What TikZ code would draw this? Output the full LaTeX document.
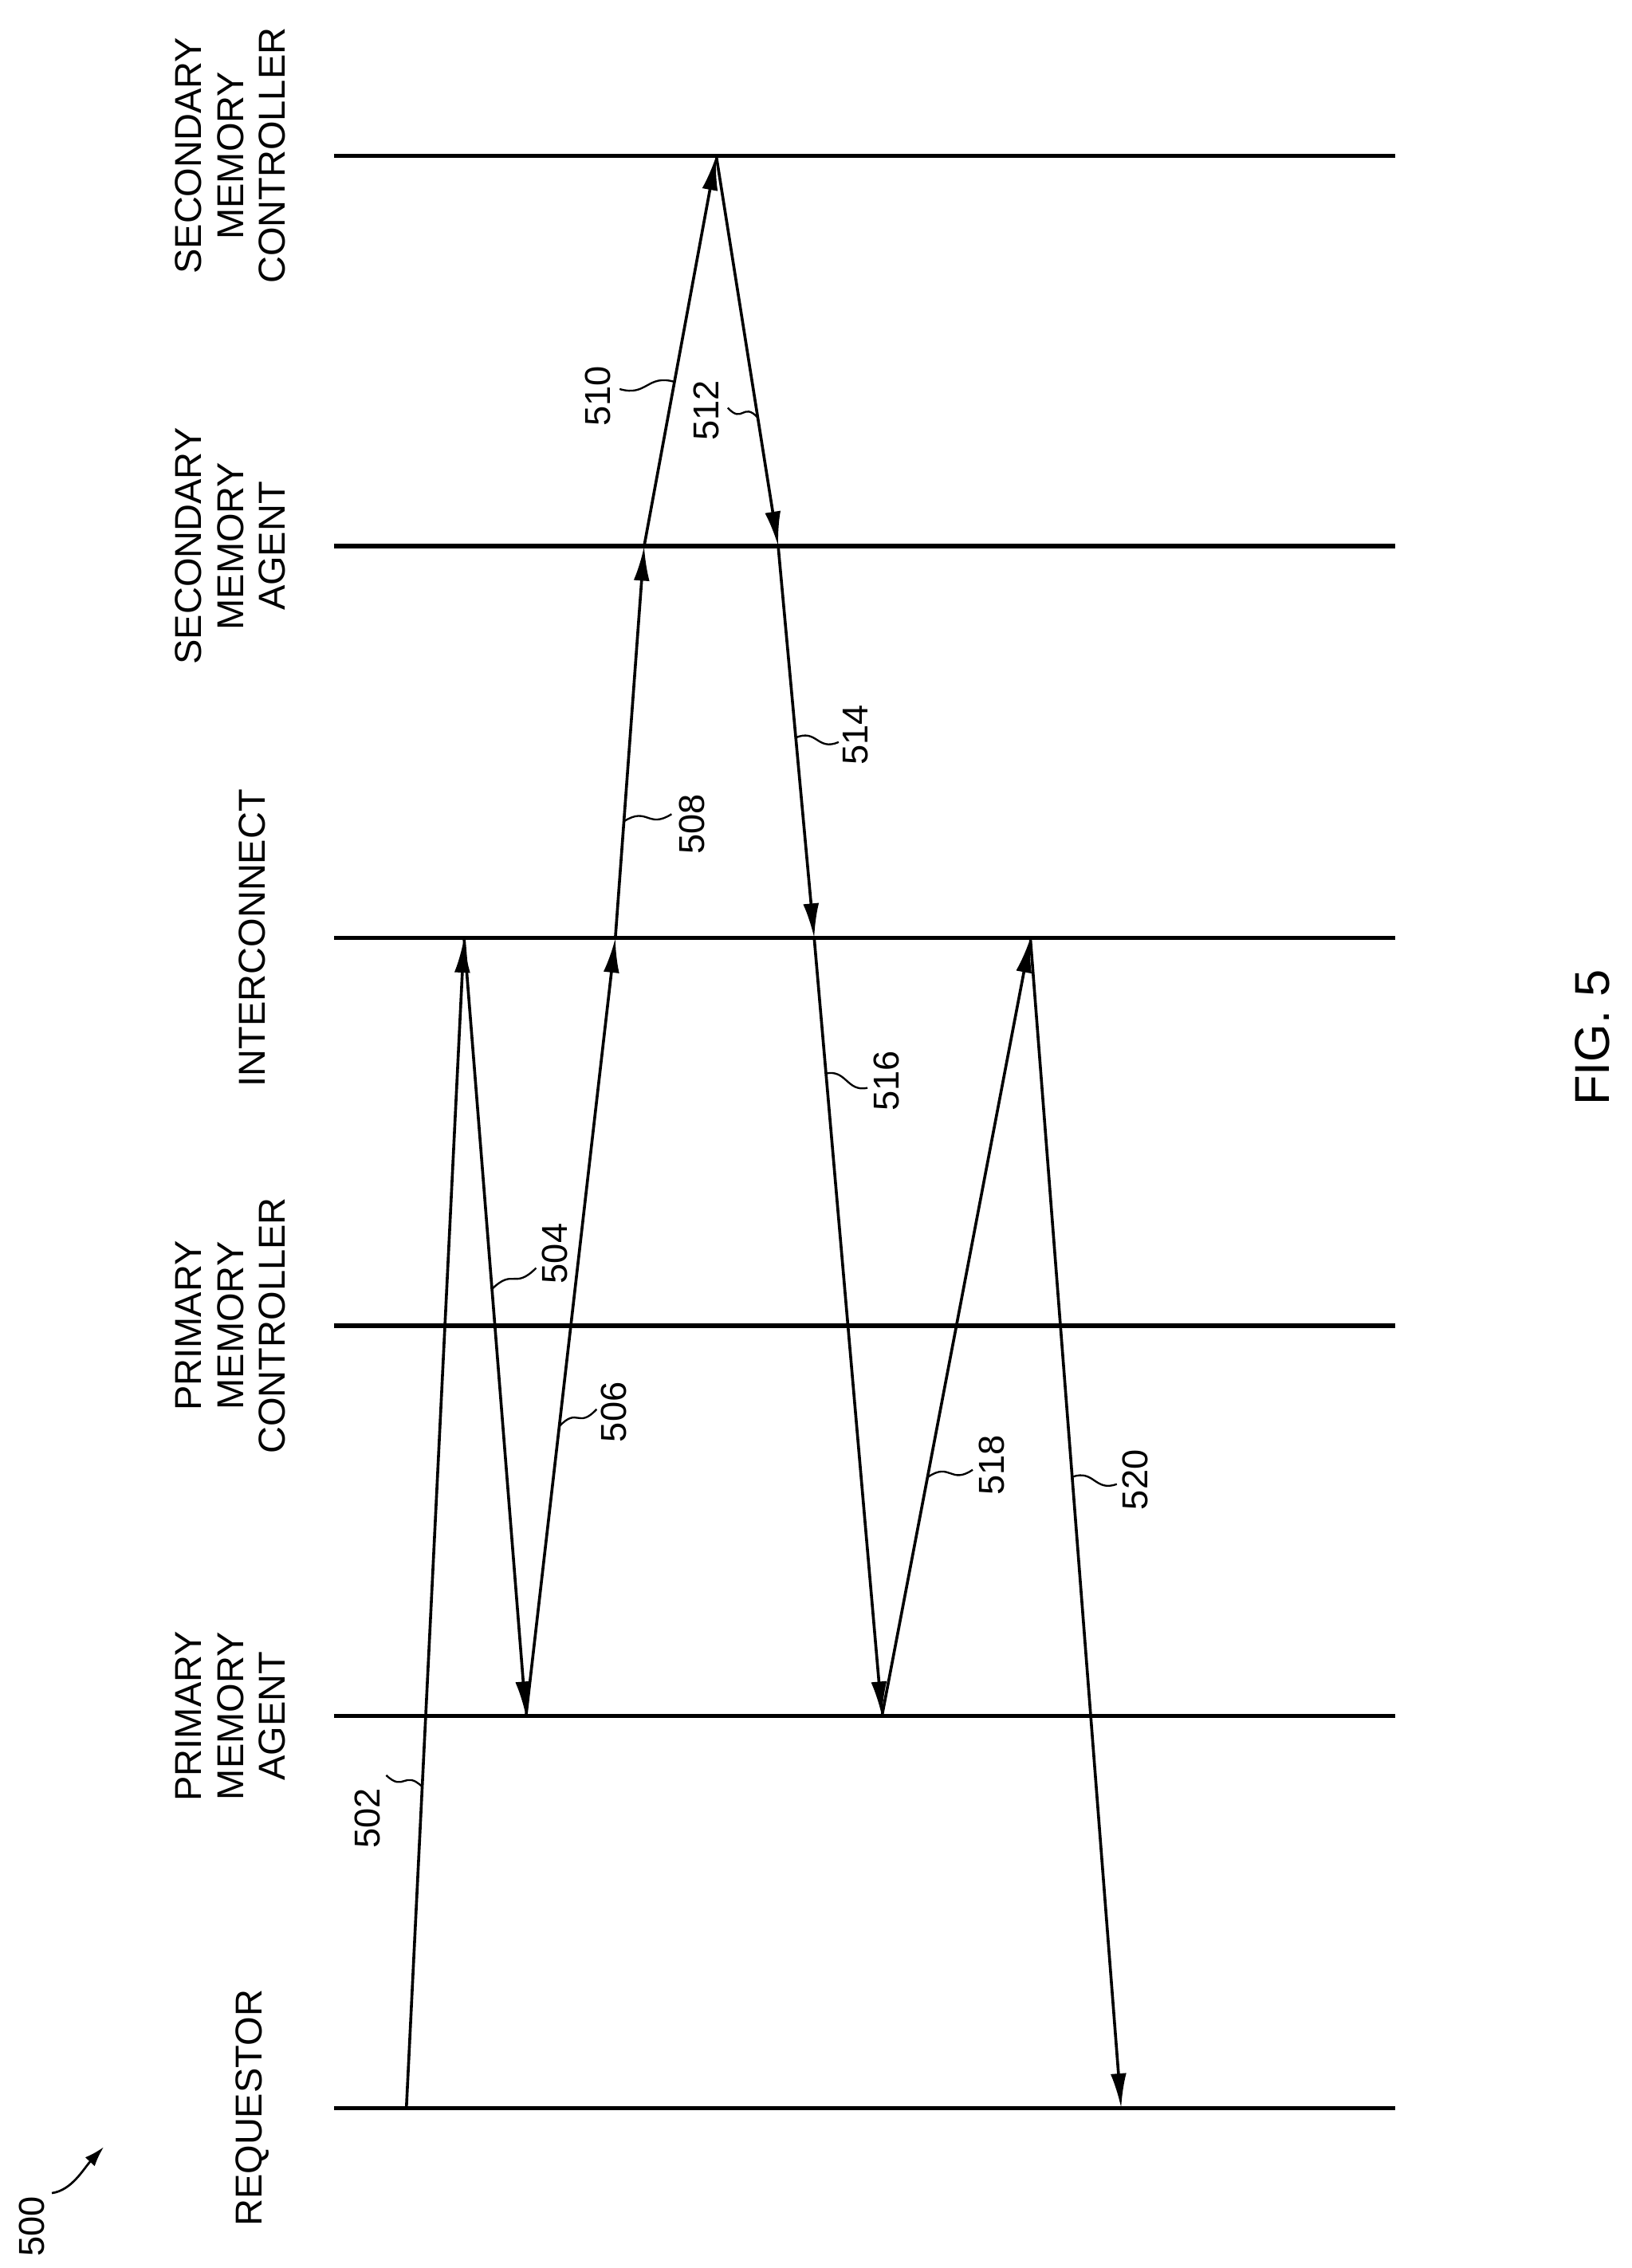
\documentclass[tikz,border=0pt]{standalone}
\usepackage{fontspec}
\setmainfont{Liberation Sans}
\usetikzlibrary{arrows.meta,calc}
\begin{document}
\begin{tikzpicture}[x=1pt,y=-1pt,
  life/.style={line width=3pt},
  msg/.style={line width=2pt,-{Latex[length=24pt,width=11pt]}},
  lead/.style={line width=1.3pt},
  lbl/.style={font=\fontsize{26}{29}\selectfont,rotate=90,align=center},
  num/.style={font=\fontsize{25}{27}\selectfont,rotate=90}]
\useasboundingbox (0,0) rectangle (1132,1574);
% lifelines
\foreach \n/\y in {smc/108,sma/379,ic/651,pmc/920,pma/1191,rq/1463}{
  \coordinate (\n L) at (232,\y); \coordinate (\n R) at (968,\y);
  \draw[life] (\n L) -- (\n R);}
\node[lbl] (t1) at (175,1463) {REQUESTOR};
\node[lbl] (t2) at (160,1191) {PRIMARY\\MEMORY\\AGENT};
\node[lbl] (t3) at (160,920) {PRIMARY\\MEMORY\\CONTROLLER};
\node[lbl] (t4) at (175,651) {INTERCONNECT};
\node[lbl] (t5) at (160,379) {SECONDARY\\MEMORY\\AGENT};
\node[lbl] (t6) at (160,108) {SECONDARY\\MEMORY\\CONTROLLER};
% event points
\coordinate (a0) at (282,1463);
\coordinate (a1) at (322,651);
\coordinate (a2) at (365,1191);
\coordinate (a3) at (427,651);
\coordinate (a4) at (447,379);
\coordinate (a5) at (497,108);
\coordinate (a6) at (540,379);
\coordinate (a7) at (565,651);
\coordinate (a8) at (612,1191);
\coordinate (a9) at (715,651);
\coordinate (a10) at (778,1463);
\draw[msg] (a0) -- (a1);
\draw[msg] (a1) -- (a2);
\draw[msg] (a2) -- (a3);
\draw[msg] (a3) -- (a4);
\draw[msg] (a4) -- (a5);
\draw[msg] (a5) -- (a6);
\draw[msg] (a6) -- (a7);
\draw[msg] (a7) -- (a8);
\draw[msg] (a8) -- (a9);
\draw[msg] (a9) -- (a10);
% labels with leaders
\foreach \nm/\px/\py/\qx/\qy/\lx/\ly in {
  502/293/1240/268/1232/255/1262,
  504/341/895/372/880/385/870,
  506/388/990/414/978/426/980,
  508/433/570/466/565/480/572,
  510/468/265/430/270/415/275,
  512/526/290/505/283/490/285,
  514/552/512/582/515/594/510,
  516/573/745/602/755/615/750,
  518/644/1025/675/1020/688/1017,
  520/744/1025/775/1030/788/1027}{
  \coordinate (p\nm) at (\px,\py); \coordinate (q\nm) at (\qx,\qy);
  \draw[lead] (p\nm) .. controls ($(p\nm)!0.5!(q\nm)+(0,-8)$) and ($(p\nm)!0.5!(q\nm)+(0,8)$) .. (q\nm);
  \node[num] (n\nm) at (\lx,\ly) {\nm};}
\node[num] (n500) at (22,1545) {500};
\coordinate (e500) at (72,1490);
\draw[line width=1.5pt,-{Latex[length=14pt,width=9pt]}] (36,1522) .. controls (50,1520) and (58,1505) .. (e500);
\node[font=\fontsize{34}{36}\selectfont,rotate=90] (fig) at (1105,720) {FIG. 5};
\end{tikzpicture}
\end{document}
